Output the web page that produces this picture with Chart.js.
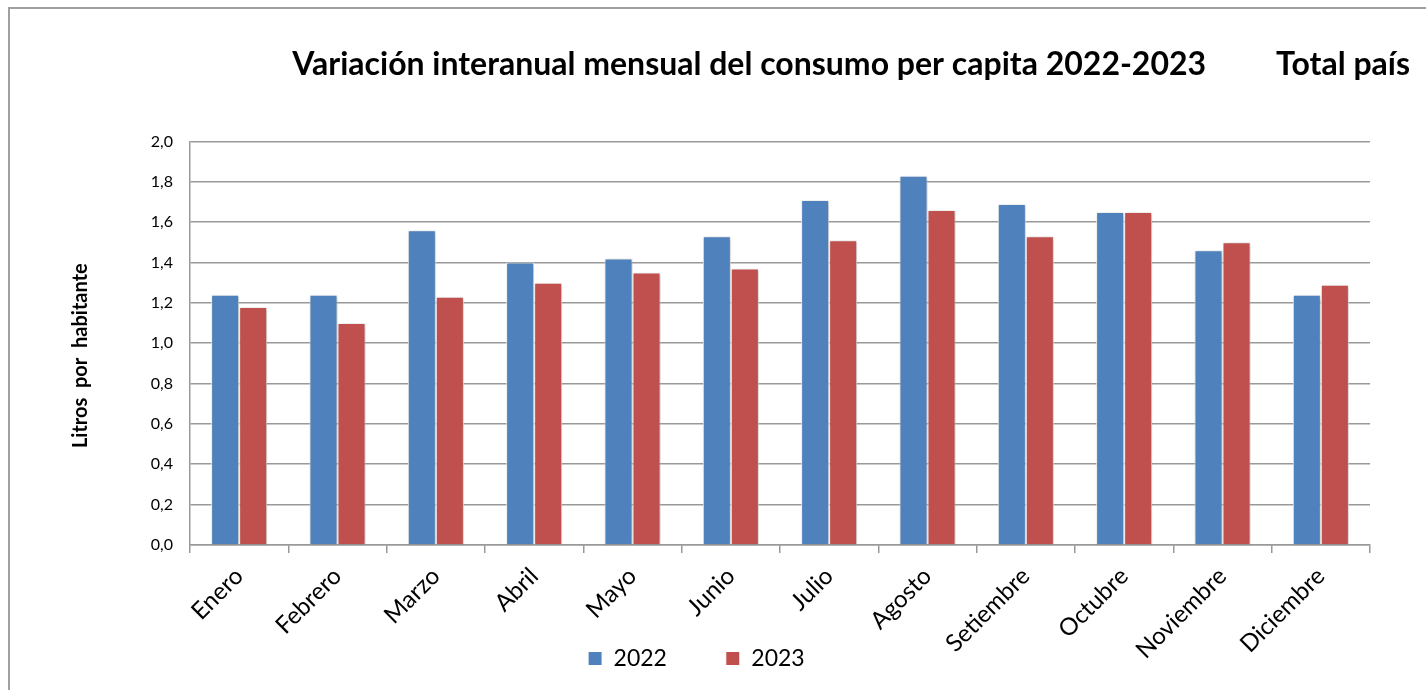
<!DOCTYPE html>
<html>
<head>
<meta charset="utf-8">
<script src="https://cdn.jsdelivr.net/npm/chart.js@4.4.1/dist/chart.umd.min.js"></script>
<style>
  html, body { margin: 0; padding: 0; background: #fff; }
  #frame { position: absolute; left: 8px; top: 7px; width: 1440px; height: 700px;
           border-left: 2px solid #a0a0a0; border-top: 2px solid #a0a0a0; }
  #chart { position: absolute; left: 0; top: 0; }
</style>
</head>
<body>
<div id="frame"></div>
<canvas id="chart" width="1426" height="690"></canvas>
<script>
// Données (litros por habitante)
const meses = ["Enero", "Febrero", "Marzo", "Abril", "Mayo", "Junio",
  "Julio", "Agosto", "Setiembre", "Octubre", "Noviembre", "Diciembre"];
const valores2022 = [1.24, 1.24, 1.56, 1.40, 1.42, 1.53, 1.71, 1.83, 1.69, 1.65, 1.46, 1.24];
const valores2023 = [1.18, 1.10, 1.23, 1.30, 1.35, 1.37, 1.51, 1.66, 1.53, 1.65, 1.50, 1.29];
const series = ["2022", "2023"];
const colores = ["#4F81BD", "#C0504D"];

const titulo = "Variación interanual mensual del consumo per capita 2022-2023";
const tituloDerecha = "Total país";

Chart.defaults.font.family = "Lato, 'Open Sans', sans-serif";
Chart.defaults.color = "#000";

// petite ombre sous les barres, comme dans Excel
const ombre = {
  id: "ombre",
  beforeDatasetsDraw(chart) {
    const c = chart.ctx;
    c.save();
    c.shadowColor = "rgba(0,0,0,0.28)";
    c.shadowBlur = 4;
    c.shadowOffsetX = 1;
    c.shadowOffsetY = 1;
  },
  afterDatasetsDraw(chart) {
    chart.ctx.restore();
  }
};

const defaultLabels = Chart.defaults.plugins.legend.labels.generateLabels;

new Chart(document.getElementById("chart"), {
  type: "bar",
  data: {
    labels: meses,
    datasets: [
      { label: series[0], data: valores2022, backgroundColor: colores[0] },
      { label: series[1], data: valores2023, backgroundColor: colores[1] }
    ]
  },
  options: {
    responsive: false,
    animation: false,
    devicePixelRatio: 1,
    layout: { padding: { left: 0, right: 16, top: 0, bottom: 10 } },
    datasets: {
      bar: {
        categoryPercentage: 0.57,
        barPercentage: 1,
        borderColor: "#fff",
        borderWidth: 1
      }
    },
    scales: {
      x: {
        grid: { drawOnChartArea: false, drawTicks: true, tickLength: 8, color: "#999", lineWidth: 1.5 },
        border: { color: "#999", width: 1.5 },
        ticks: { minRotation: 45, maxRotation: 45, font: { size: 24 }, padding: 9 },
        afterFit: s => {
          s.height = 92;
          // les étiquettes débordent sur la zone de la légende, comme dans l'original
          s._computeLabelArea = () => undefined;
        }
      },
      y: {
        min: 0,
        max: 2,
        ticks: {
          stepSize: 0.2,
          font: { size: 16 },
          padding: 17,
          callback: v => v.toFixed(1).replace(".", ",")
        },
        grid: { color: "#999", lineWidth: 1.6, drawTicks: false },
        border: { color: "#999", width: 1.5 },
        title: {
          display: true,
          text: "Litros  por  habitante\u2003\u2002",
          font: { size: 20, weight: "bold" },
          padding: { top: 69, bottom: 0 }
        },
        afterFit: s => { s.width = 190; }
      },
      y2: {
        position: "right",
        display: true,
        grid: { display: false },
        border: { display: false },
        ticks: { display: false },
        afterFit: s => { s.width = 40; }
      }
    },
    plugins: {
      title: {
        display: true,
        text: titulo + "         " + tituloDerecha,
        align: "end",
        font: { size: 32, weight: "bold" },
        padding: { top: 45, bottom: 58 }
      },
      legend: {
        position: "bottom",
        labels: {
          boxWidth: 14,
          boxHeight: 14,
          padding: 10,
          font: { size: 23 },
          generateLabels: chart => defaultLabels(chart).map((l, i) =>
            Object.assign(l, { text: l.text + (i === 0 ? "\u2003\u2003\u2002\u2009" : "\u2003") }))
        }
      },
      tooltip: { enabled: false }
    }
  },
  plugins: [ombre]
});
</script>
</body>
</html>
